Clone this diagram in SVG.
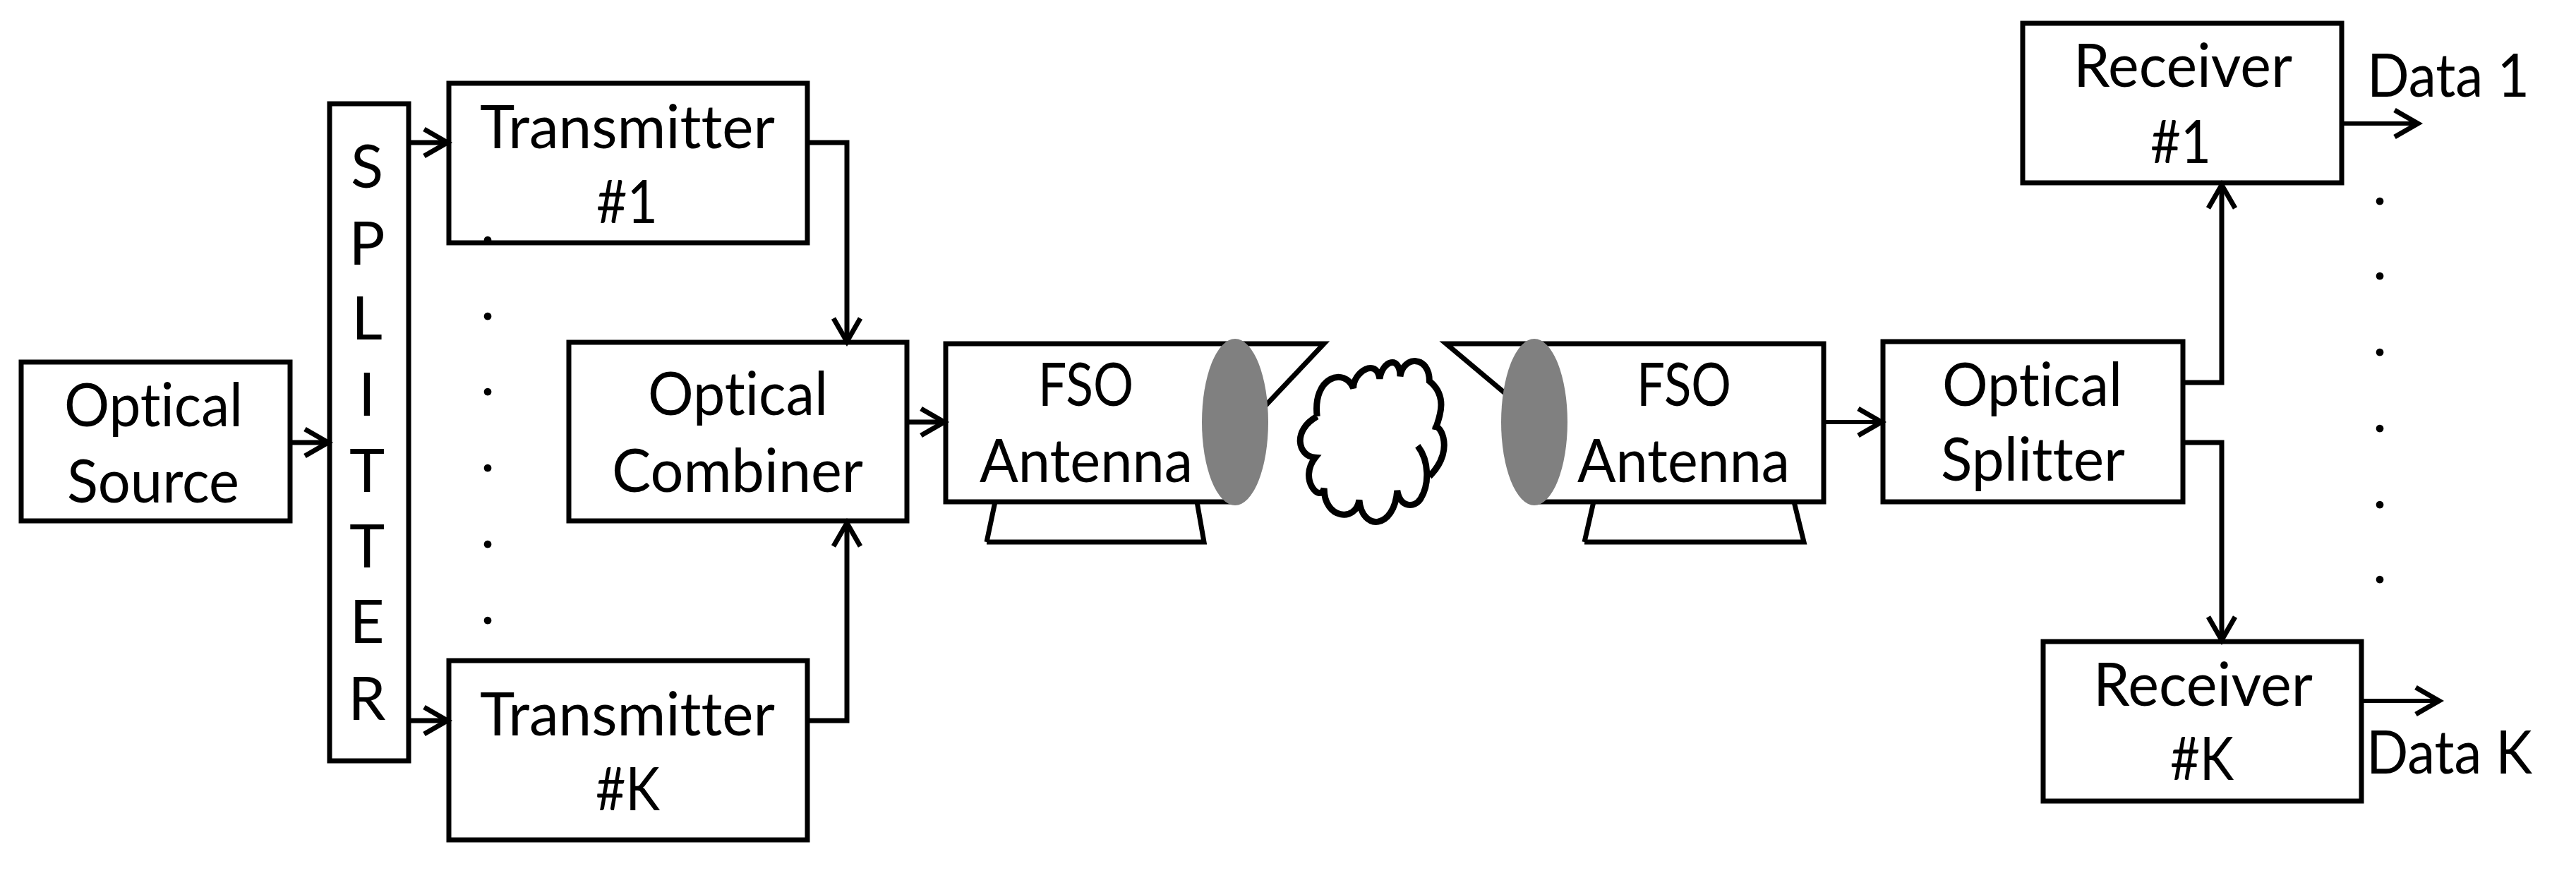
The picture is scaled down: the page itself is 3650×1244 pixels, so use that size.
<svg xmlns="http://www.w3.org/2000/svg" width="3650" height="1244" viewBox="0 0 3650 1244">
<style>
.box{fill:#fff;stroke:#000;stroke-width:7;stroke-linejoin:miter}
.ln{fill:none;stroke:#000;stroke-width:7;stroke-linejoin:miter}
.cn{fill:none;stroke:#000;stroke-width:7;marker-end:url(#arr)}
.thin{stroke-width:6}
.t{font-family:Lato,"Open Sans",sans-serif;font-size:85px;fill:#000;font-variant-ligatures:none}
.m{text-anchor:middle}
.lens{fill:#808080;stroke:none}
</style>
<defs>
<marker id="arr" markerUnits="userSpaceOnUse" markerWidth="50" markerHeight="60" refX="42" refY="25" orient="auto" overflow="visible">
<path d="M9,6 L42,25 L9,44" fill="none" stroke="#000" stroke-width="7"/>
</marker>
</defs>
<rect width="3650" height="1244" fill="#fff"/>
<g id="dots-tx" class="t m">
<text x="691" y="345">.</text><text x="691" y="453">.</text><text x="691" y="560">.</text><text x="691" y="668">.</text><text x="691" y="776">.</text><text x="691" y="884">.</text>
</g>
<g id="dots-rx" class="t m">
<text x="3372" y="290">.</text><text x="3372" y="396">.</text><text x="3372" y="504">.</text><text x="3372" y="612">.</text><text x="3372" y="720">.</text><text x="3372" y="826">.</text>
</g>
<g id="source"><rect class="box" x="30" y="513" width="381" height="225"/>
<text class="t" x="91" y="604" textLength="253" lengthAdjust="spacingAndGlyphs">Optical</text>
<text class="t" x="95" y="712" textLength="244" lengthAdjust="spacingAndGlyphs">Source</text></g>
<g id="splitter"><rect class="box" x="467" y="147" width="112" height="931"/>
<g class="t m"><text x="520" y="266">S</text><text x="520" y="375">P</text><text x="520" y="481">L</text><text x="520" y="589">I</text><text x="520" y="697">T</text><text x="520" y="804">T</text><text x="520" y="911">E</text><text x="520" y="1020">R</text></g></g>
<g id="tx1"><rect class="box" x="636" y="118" width="508" height="226" fill-opacity="0"/>
<text class="t" x="680" y="210" textLength="418" lengthAdjust="spacingAndGlyphs">Transmitter</text>
<text class="t" x="845" y="316" textLength="87" lengthAdjust="spacingAndGlyphs">#1</text></g>
<g id="txk"><rect class="box" x="636" y="936" width="508" height="254"/>
<text class="t" x="680" y="1042" textLength="418" lengthAdjust="spacingAndGlyphs">Transmitter</text>
<text class="t" x="844" y="1148" textLength="91" lengthAdjust="spacingAndGlyphs">#K</text></g>
<g id="combiner"><rect class="box" x="806" y="485" width="479" height="253"/>
<text class="t" x="918" y="588" textLength="255" lengthAdjust="spacingAndGlyphs">Optical</text>
<text class="t" x="867" y="697" textLength="356" lengthAdjust="spacingAndGlyphs">Combiner</text></g>
<g id="antenna-left">
<path class="ln" d="M1398,768 L1706,768 L1696,711 M1410,711 L1398,768"/>
<path class="ln" d="M1790,578 L1876,487 H1340 V711 H1750"/>
<ellipse class="lens" cx="1750" cy="598" rx="47" ry="118"/>
<text class="t" x="1471" y="575" textLength="135" lengthAdjust="spacingAndGlyphs">FSO</text>
<text class="t" x="1388" y="683" textLength="302" lengthAdjust="spacingAndGlyphs">Antenna</text>
</g>
<g id="cloud">
<path transform="translate(1300 420) scale(0.829 0.3333)" vector-effect="non-scaling-stroke" fill="#fff" stroke="#000" stroke-width="9" d="M683,510 C675,340 730,300 745,390 C745,320 785,260 790,350 C795,270 825,250 825,340 C830,250 875,250 875,360 C905,420 895,500 885,565 C885,520 925,640 875,765 M855,635 C875,700 875,800 860,860 C850,900 825,900 820,825 C815,990 760,1000 755,865 C750,960 695,950 695,815 C690,880 650,780 680,685 C650,680 640,570 683,510"/>
</g>
<g id="antenna-right">
<path class="ln" d="M2245,768 L2556,768 L2542,711 M2258,711 L2245,768"/>
<path class="ln" d="M2136,560 L2049,487 H2584 V711 H2174"/>
<ellipse class="lens" cx="2174" cy="598" rx="47" ry="118"/>
<text class="t" x="2319" y="575" textLength="134" lengthAdjust="spacingAndGlyphs">FSO</text>
<text class="t" x="2235" y="683" textLength="301" lengthAdjust="spacingAndGlyphs">Antenna</text>
</g>
<g id="optical-splitter"><rect class="box" x="2668" y="484" width="425" height="227"/>
<text class="t" x="2752" y="575" textLength="255" lengthAdjust="spacingAndGlyphs">Optical</text>
<text class="t" x="2750" y="681" textLength="261" lengthAdjust="spacingAndGlyphs">Splitter</text></g>
<g id="rx1"><rect class="box" x="2866" y="33" width="452" height="226"/>
<text class="t" x="2938" y="123" textLength="310" lengthAdjust="spacingAndGlyphs">Receiver</text>
<text class="t" x="3047" y="231" textLength="86" lengthAdjust="spacingAndGlyphs">#1</text></g>
<g id="rxk"><rect class="box" x="2895" y="909" width="451" height="226"/>
<text class="t" x="2966" y="1000" textLength="311" lengthAdjust="spacingAndGlyphs">Receiver</text>
<text class="t" x="3075" y="1105" textLength="90" lengthAdjust="spacingAndGlyphs">#K</text></g>
<g id="labels">
<text class="t" x="3354" y="137" textLength="230" lengthAdjust="spacingAndGlyphs">Data 1</text>
<text class="t" x="3353" y="1096" textLength="235" lengthAdjust="spacingAndGlyphs">Data K</text>
</g>
<g id="connectors">
<path class="cn" d="M411,627 H465"/>
<path class="cn" d="M582,202 H634"/>
<path class="cn" d="M582,1021 H634"/>
<path class="cn" d="M1144,202 H1200 V484"/>
<path class="cn" d="M1144,1021 H1200 V741"/>
<path class="cn" d="M1285,598 H1338"/>
<path class="cn thin" d="M2584,598 H2666"/>
<path class="cn" d="M3093,542 H3148 V262"/>
<path class="cn" d="M3093,627 H3148 V907"/>
<path class="cn thin" d="M3318,175 H3426"/>
<path class="cn thin" d="M3346,993 H3456"/>
</g>
</svg>
